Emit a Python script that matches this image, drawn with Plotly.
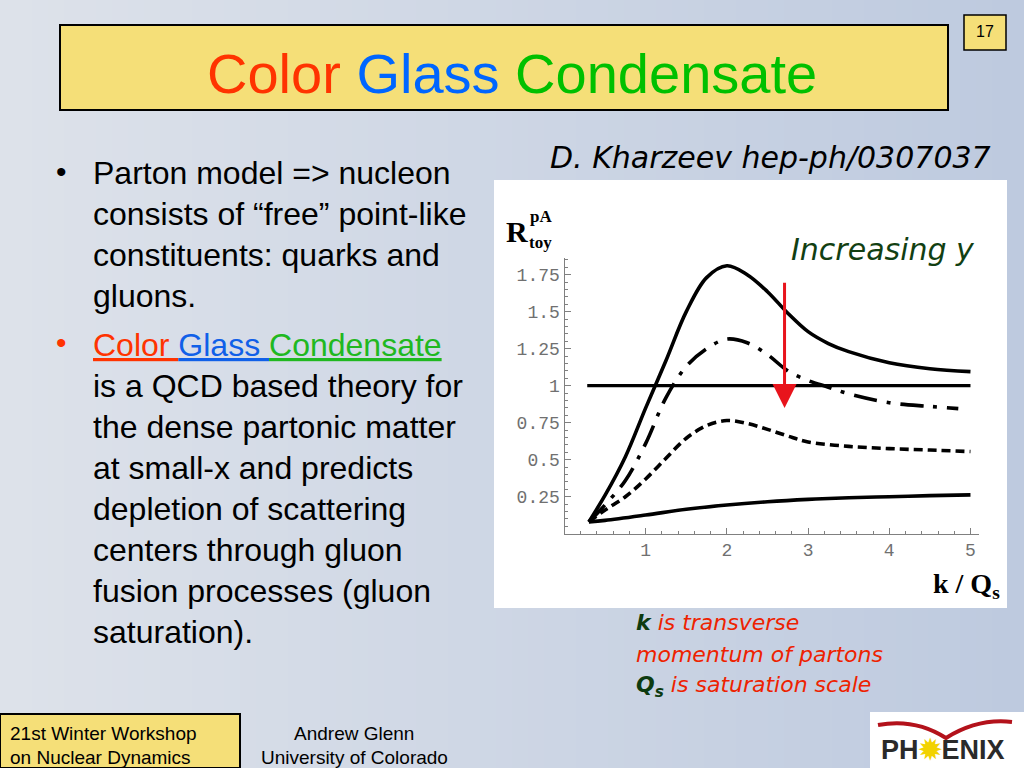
import plotly.graph_objects as go

W, H = 1024, 768

# ---------------- data ----------------
ref_x = [0.28, 5.0]
ref_y = [1.0, 1.0]

top_x = [0.3, 0.5, 0.75, 1.0, 1.25, 1.5, 1.75, 2.0, 2.25, 2.5, 2.75, 3.0, 3.25, 3.5, 4.0, 4.5, 5.0]
top_y = [0.08, 0.26, 0.52, 0.85, 1.17, 1.5, 1.73, 1.81, 1.75, 1.635, 1.49, 1.365, 1.285, 1.23, 1.155, 1.115, 1.095]

dashdot_x = [0.3, 0.5, 0.75, 1.0, 1.25, 1.5, 1.75, 2.0, 2.25, 2.5, 2.75, 3.0, 3.25, 3.5, 4.0, 4.5, 4.85]
dashdot_y = [0.08, 0.195, 0.36, 0.61, 0.92, 1.13, 1.25, 1.315, 1.29, 1.21, 1.10, 1.035, 0.99, 0.945, 0.885, 0.86, 0.845]

dash_x = [0.3, 0.5, 0.75, 1.0, 1.25, 1.5, 1.75, 2.0, 2.25, 2.5, 2.75, 3.0, 3.5, 4.0, 4.5, 5.0]
dash_y = [0.08, 0.16, 0.25, 0.37, 0.51, 0.645, 0.73, 0.765, 0.745, 0.705, 0.66, 0.62, 0.59, 0.575, 0.565, 0.555]

bottom_x = [0.3, 0.5, 1.0, 1.5, 2.0, 2.5, 3.0, 3.5, 4.0, 4.5, 5.0]
bottom_y = [0.08, 0.09, 0.126, 0.165, 0.194, 0.216, 0.232, 0.243, 0.25, 0.257, 0.262]

x_ticks = [1, 2, 3, 4, 5]
y_ticks = [0.25, 0.5, 0.75, 1.0, 1.25, 1.5, 1.75]
y_tick_text = ["0.25", "0.5", "0.75", "1", "1.25", "1.5", "1.75"]

arrow_x = 2.71
arrow_from = 1.705
arrow_to = 0.85

title_parts = [("Color", "#ff3300"), ("Glass", "#0066ff"), ("Condensate", "#00c000")]

bullet1_lines = ["Parton model => nucleon",
                 "consists of \u201cfree\u201d point-like",
                 "constituents: quarks and",
                 "gluons."]
bullet2_lines = ["is a QCD based theory for",
                 "the dense partonic matter",
                 "at small-x and predicts",
                 "depletion of scattering",
                 "centers through gluon",
                 "fusion processes (gluon",
                 "saturation)."]

# ---------------- helpers ----------------
def px(x):
    return x / W

def py(y):
    return 1 - y / H

fig = go.Figure()

LINE_W = 3.6
fig.add_trace(go.Scatter(x=ref_x, y=ref_y, mode="lines",
                         line=dict(color="black", width=3.2), hoverinfo="skip"))
fig.add_trace(go.Scatter(x=top_x, y=top_y, mode="lines",
                         line=dict(color="black", width=LINE_W, shape="spline"), hoverinfo="skip"))
fig.add_trace(go.Scatter(x=dashdot_x, y=dashdot_y, mode="lines",
                         line=dict(color="black", width=LINE_W, shape="spline",
                                   dash="23px,10px,4px,10px"), hoverinfo="skip"))
fig.add_trace(go.Scatter(x=dash_x, y=dash_y, mode="lines",
                         line=dict(color="black", width=LINE_W, shape="spline",
                                   dash="9px,5px"), hoverinfo="skip"))
fig.add_trace(go.Scatter(x=bottom_x, y=bottom_y, mode="lines",
                         line=dict(color="black", width=LINE_W, shape="spline"), hoverinfo="skip"))

shapes = []
# background gradient (horizontal)
c0 = (0xdd, 0xe2, 0xea)
c1 = (0xbe, 0xca, 0xdf)
N = 64
for i in range(N):
    t = i / (N - 1)
    col = "rgb(%d,%d,%d)" % tuple(round(a + (b - a) * t) for a, b in zip(c0, c1))
    shapes.append(dict(type="rect", xref="paper", yref="paper",
                       x0=i / N, x1=(i + 1) / N + 0.002, y0=0, y1=1,
                       fillcolor=col, line=dict(width=0), layer="below"))
# white chart panel
shapes.append(dict(type="rect", xref="paper", yref="paper",
                   x0=px(494), x1=px(1007), y0=py(608), y1=py(180),
                   fillcolor="white", line=dict(width=0), layer="below"))
# title box
shapes.append(dict(type="rect", xref="paper", yref="paper",
                   x0=px(60), x1=px(948), y0=py(110), y1=py(25),
                   fillcolor="#f5df78", line=dict(color="black", width=2), layer="below"))
# page number box
shapes.append(dict(type="rect", xref="paper", yref="paper",
                   x0=px(964), x1=px(1006), y0=py(50), y1=py(15),
                   fillcolor="#f5df78", line=dict(color="black", width=1.5), layer="below"))
# footer box
shapes.append(dict(type="rect", xref="paper", yref="paper",
                   x0=px(0), x1=px(240), y0=py(768), y1=py(714),
                   fillcolor="#f5df78", line=dict(color="black", width=2), layer="below"))
# logo panel
shapes.append(dict(type="rect", xref="paper", yref="paper",
                   x0=px(870), x1=px(1024), y0=py(768), y1=py(712),
                   fillcolor="white", line=dict(width=0), layer="below"))

def pth(points):
    s = ""
    for cmd, pts in points:
        s += cmd + " " + " ".join("%.5f,%.5f" % (px(a), py(b)) for a, b in pts) + " "
    return s

wing = pth([("M", [(878, 725)]), ("Q", [(915, 718), (946, 738)]),
            ("Q", [(978, 718), (1012, 722)])])
shapes.append(dict(type="path", xref="paper", yref="paper", path=wing,
                   line=dict(color="#b3121b", width=4), layer="above"))

ann = []

def text(x, y, s, size, color="black", family="Liberation Sans", xanchor="left",
         yanchor="middle", style="normal", weight="normal"):
    ann.append(dict(x=px(x), y=py(y), xref="paper", yref="paper", text=s, showarrow=False,
                    xanchor=xanchor, yanchor=yanchor,
                    font=dict(size=size, color=color, family=family, style=style, weight=weight)))

# title
title_html = " ".join("<span style='color:%s'>%s</span>" % (c, t) for t, c in title_parts)
text(512, 74, title_html, 56, xanchor="center")
text(985, 32, "17", 16, xanchor="center")

# bullets
text(54, 171, "\u2022", 30)
for i, line in enumerate(bullet1_lines):
    text(91, 173 + i * 41, line, 32)

text(54, 343, "\u2022", 30, color="#ff3300")
cgc = ("<span style='color:#ff3300;text-decoration:underline'>Color </span>"
       "<span style='color:#1060e8;text-decoration:underline'>Glass </span>"
       "<span style='color:#20b820;text-decoration:underline'>Condensate</span>")
text(91, 345, cgc, 32)
for i, line in enumerate(bullet2_lines):
    text(91, 386 + i * 41, line, 32)

# reference
text(548, 157, "D. Kharzeev hep-ph/0307037", 30, family="DejaVu Sans", style="italic")
text(789, 250, "Increasing y", 30, color="#123f12", family="DejaVu Sans", style="italic")

# axis labels (Mathematica style)
text(517, 231, "R", 30, family="Liberation Serif", xanchor="center", weight="bold")
text(528, 216, "pA", 17, family="Liberation Serif", weight="bold")
text(527, 242, "toy", 17, family="Liberation Serif", weight="bold")
text(1002, 585, "k / Q<sub>s</sub>", 28, family="Liberation Serif", xanchor="right", weight="bold")

# caption
green = "#0d3b10"
red = "#ee2200"
text(634, 622, "<span style='color:%s'><b>k</b></span> is transverse" % green, 22,
     color=red, family="DejaVu Sans", style="italic")
text(634, 654, "momentum of partons", 22, color=red, family="DejaVu Sans", style="italic")
text(634, 686, "<span style='color:%s'><b>Q<sub>s</sub></b></span> is saturation scale" % green, 22,
     color=red, family="DejaVu Sans", style="italic")

# footer
text(8, 733, "21st Winter Workshop", 19)
text(8, 757, "on Nuclear Dynamics", 19)
text(354, 733, "Andrew Glenn", 19, xanchor="center")
text(354, 757, "University of Colorado", 19, xanchor="center")
text(943, 750, "PH<span style='color:#f2d200'>\u2739</span>ENIX", 27, color="#2a2a2a",
     xanchor="center", weight="bold")

# red arrow
ann.append(dict(x=arrow_x, y=arrow_to, ax=arrow_x, ay=arrow_from, xref="x", yref="y",
                axref="x", ayref="y", text="", showarrow=True, arrowhead=2,
                arrowsize=1.6, arrowwidth=3, arrowcolor="#e8141c"))

axis_font = dict(family="Liberation Mono", size=18, color="#707070")
fig.update_layout(
    width=W, height=H, margin=dict(l=0, r=0, t=0, b=0),
    paper_bgcolor="#d0d7e4", plot_bgcolor="rgba(0,0,0,0)",
    showlegend=False, shapes=shapes, annotations=ann,
    xaxis=dict(domain=[px(564.5), px(978.6)], range=[0, 5.1], tickmode="array",
               tickvals=x_ticks, ticktext=[str(v) for v in x_ticks],
               showline=True, linecolor="#808080", linewidth=1.2, ticks="inside",
               ticklen=6, tickcolor="#808080", tickfont=axis_font, showgrid=False,
               zeroline=False, fixedrange=True,
               minor=dict(tick0=0, dtick=0.2, ticks="inside", ticklen=3,
                          tickcolor="#808080", showgrid=False)),
    yaxis=dict(domain=[py(533.7), py(258.4)], range=[0, 1.86], tickmode="array",
               tickvals=y_ticks, ticktext=y_tick_text,
               showline=True, linecolor="#808080", linewidth=1.2, ticks="inside",
               ticklen=6, tickcolor="#808080", tickfont=axis_font, showgrid=False,
               zeroline=False, fixedrange=True,
               minor=dict(tick0=0, dtick=0.05, ticks="inside", ticklen=3,
                          tickcolor="#808080", showgrid=False)),
)

fig.write_html("out.html", config={"displayModeBar": False},
               post_script="document.body.style.margin='0';document.body.style.overflow='hidden';")
